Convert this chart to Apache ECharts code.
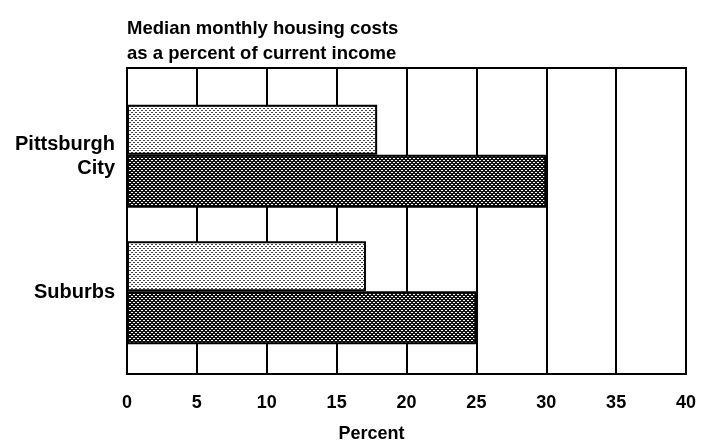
<!DOCTYPE html>
<html>
<head>
<meta charset="utf-8">
<script src="https://cdn.jsdelivr.net/npm/echarts@6/dist/echarts.min.js"></script>
<style>
html, body { margin: 0; padding: 0; background: #fff; }
#chart { width: 703px; height: 444px; }
</style>
</head>
<body>
<div id="chart"></div>
<script>
// data
var categories = ['Pittsburgh\nCity', 'Suburbs'];
var lightValues = [17.9, 17.1];
var darkValues = [30, 25];
var xTicks = [0, 5, 10, 15, 20, 25, 30, 35, 40];

var FONT = '"Liberation Sans", Arial, sans-serif';

// dotted fill patterns (scanned halftone look)
function makePattern(bg, dot) {
  var c = document.createElement('canvas');
  c.width = 4;
  c.height = 4;
  var ctx = c.getContext('2d');
  ctx.fillStyle = bg;
  ctx.fillRect(0, 0, 4, 4);
  ctx.fillStyle = dot;
  ctx.fillRect(0, 0, 1, 1);
  ctx.fillRect(2, 2, 1, 1);
  ctx.fillRect(1, 2, 1, 1);
  ctx.fillRect(3, 0, 1, 1);
  return { image: c, repeat: 'repeat' };
}
var lightFill = makePattern('#ffffff', '#444444');
var darkFill = makePattern('#111111', '#ffffff');

var chart = echarts.init(document.getElementById('chart'));

var option = {
  animation: false,
  title: {
    text: 'Median monthly housing costs\nas a percent of current income',
    left: 122,
    top: 11,
    textStyle: {
      fontFamily: FONT,
      fontSize: 18.5,
      fontWeight: 'bold',
      lineHeight: 25,
      color: '#000'
    }
  },
  grid: [
    // frame + vertical lines
    { left: 127, right: 17, top: 68, bottom: 70, outerBoundsMode: 'none', show: true, borderColor: '#000', borderWidth: 2, backgroundColor: '#fff' },
    // bars
    { left: 127, right: 17, top: 88, bottom: 83, outerBoundsMode: 'none' }
  ],
  xAxis: [{
    gridIndex: 0,
    type: 'value',
    min: xTicks[0],
    max: xTicks[xTicks.length - 1],
    interval: 5,
    axisLine: { show: false },
    axisTick: { show: false },
    splitLine: { show: true, lineStyle: { color: '#000', width: 2 } },
    axisLabel: { fontFamily: FONT, fontSize: 18, fontWeight: 'bold', color: '#000', margin: 20 },
    name: 'Percent',
    nameLocation: 'middle',
    nameGap: 51,
    nameTextStyle: { fontFamily: FONT, fontSize: 18, fontWeight: 'bold', color: '#000', padding: [0, 70, 0, 0] }
  }, {
    gridIndex: 1,
    type: 'value',
    min: xTicks[0],
    max: xTicks[xTicks.length - 1],
    show: false
  }],
  yAxis: [{
    gridIndex: 0,
    type: 'category',
    data: categories,
    show: false
  }, {
    gridIndex: 1,
    type: 'category',
    data: categories,
    inverse: true,
    axisLine: { show: false },
    axisTick: { show: false },
    splitLine: { show: false },
    axisLabel: {
      fontFamily: FONT,
      fontSize: 20,
      fontWeight: 'bold',
      lineHeight: 24,
      color: '#000',
      margin: 12,
      align: 'right'
    }
  }],
  series: [{
    name: 'Light',
    type: 'bar',
    xAxisIndex: 1,
    yAxisIndex: 1,
    barWidth: 50,
    barGap: '0%',
    data: lightValues,
    itemStyle: { color: lightFill, borderColor: '#000', borderWidth: 2 }
  }, {
    name: 'Dark',
    type: 'bar',
    xAxisIndex: 1,
    yAxisIndex: 1,
    barWidth: 53,
    barGap: '0%',
    data: darkValues,
    itemStyle: { color: darkFill, borderColor: '#000', borderWidth: 2 }
  }]
};

chart.setOption(option);
</script>
</body>
</html>
